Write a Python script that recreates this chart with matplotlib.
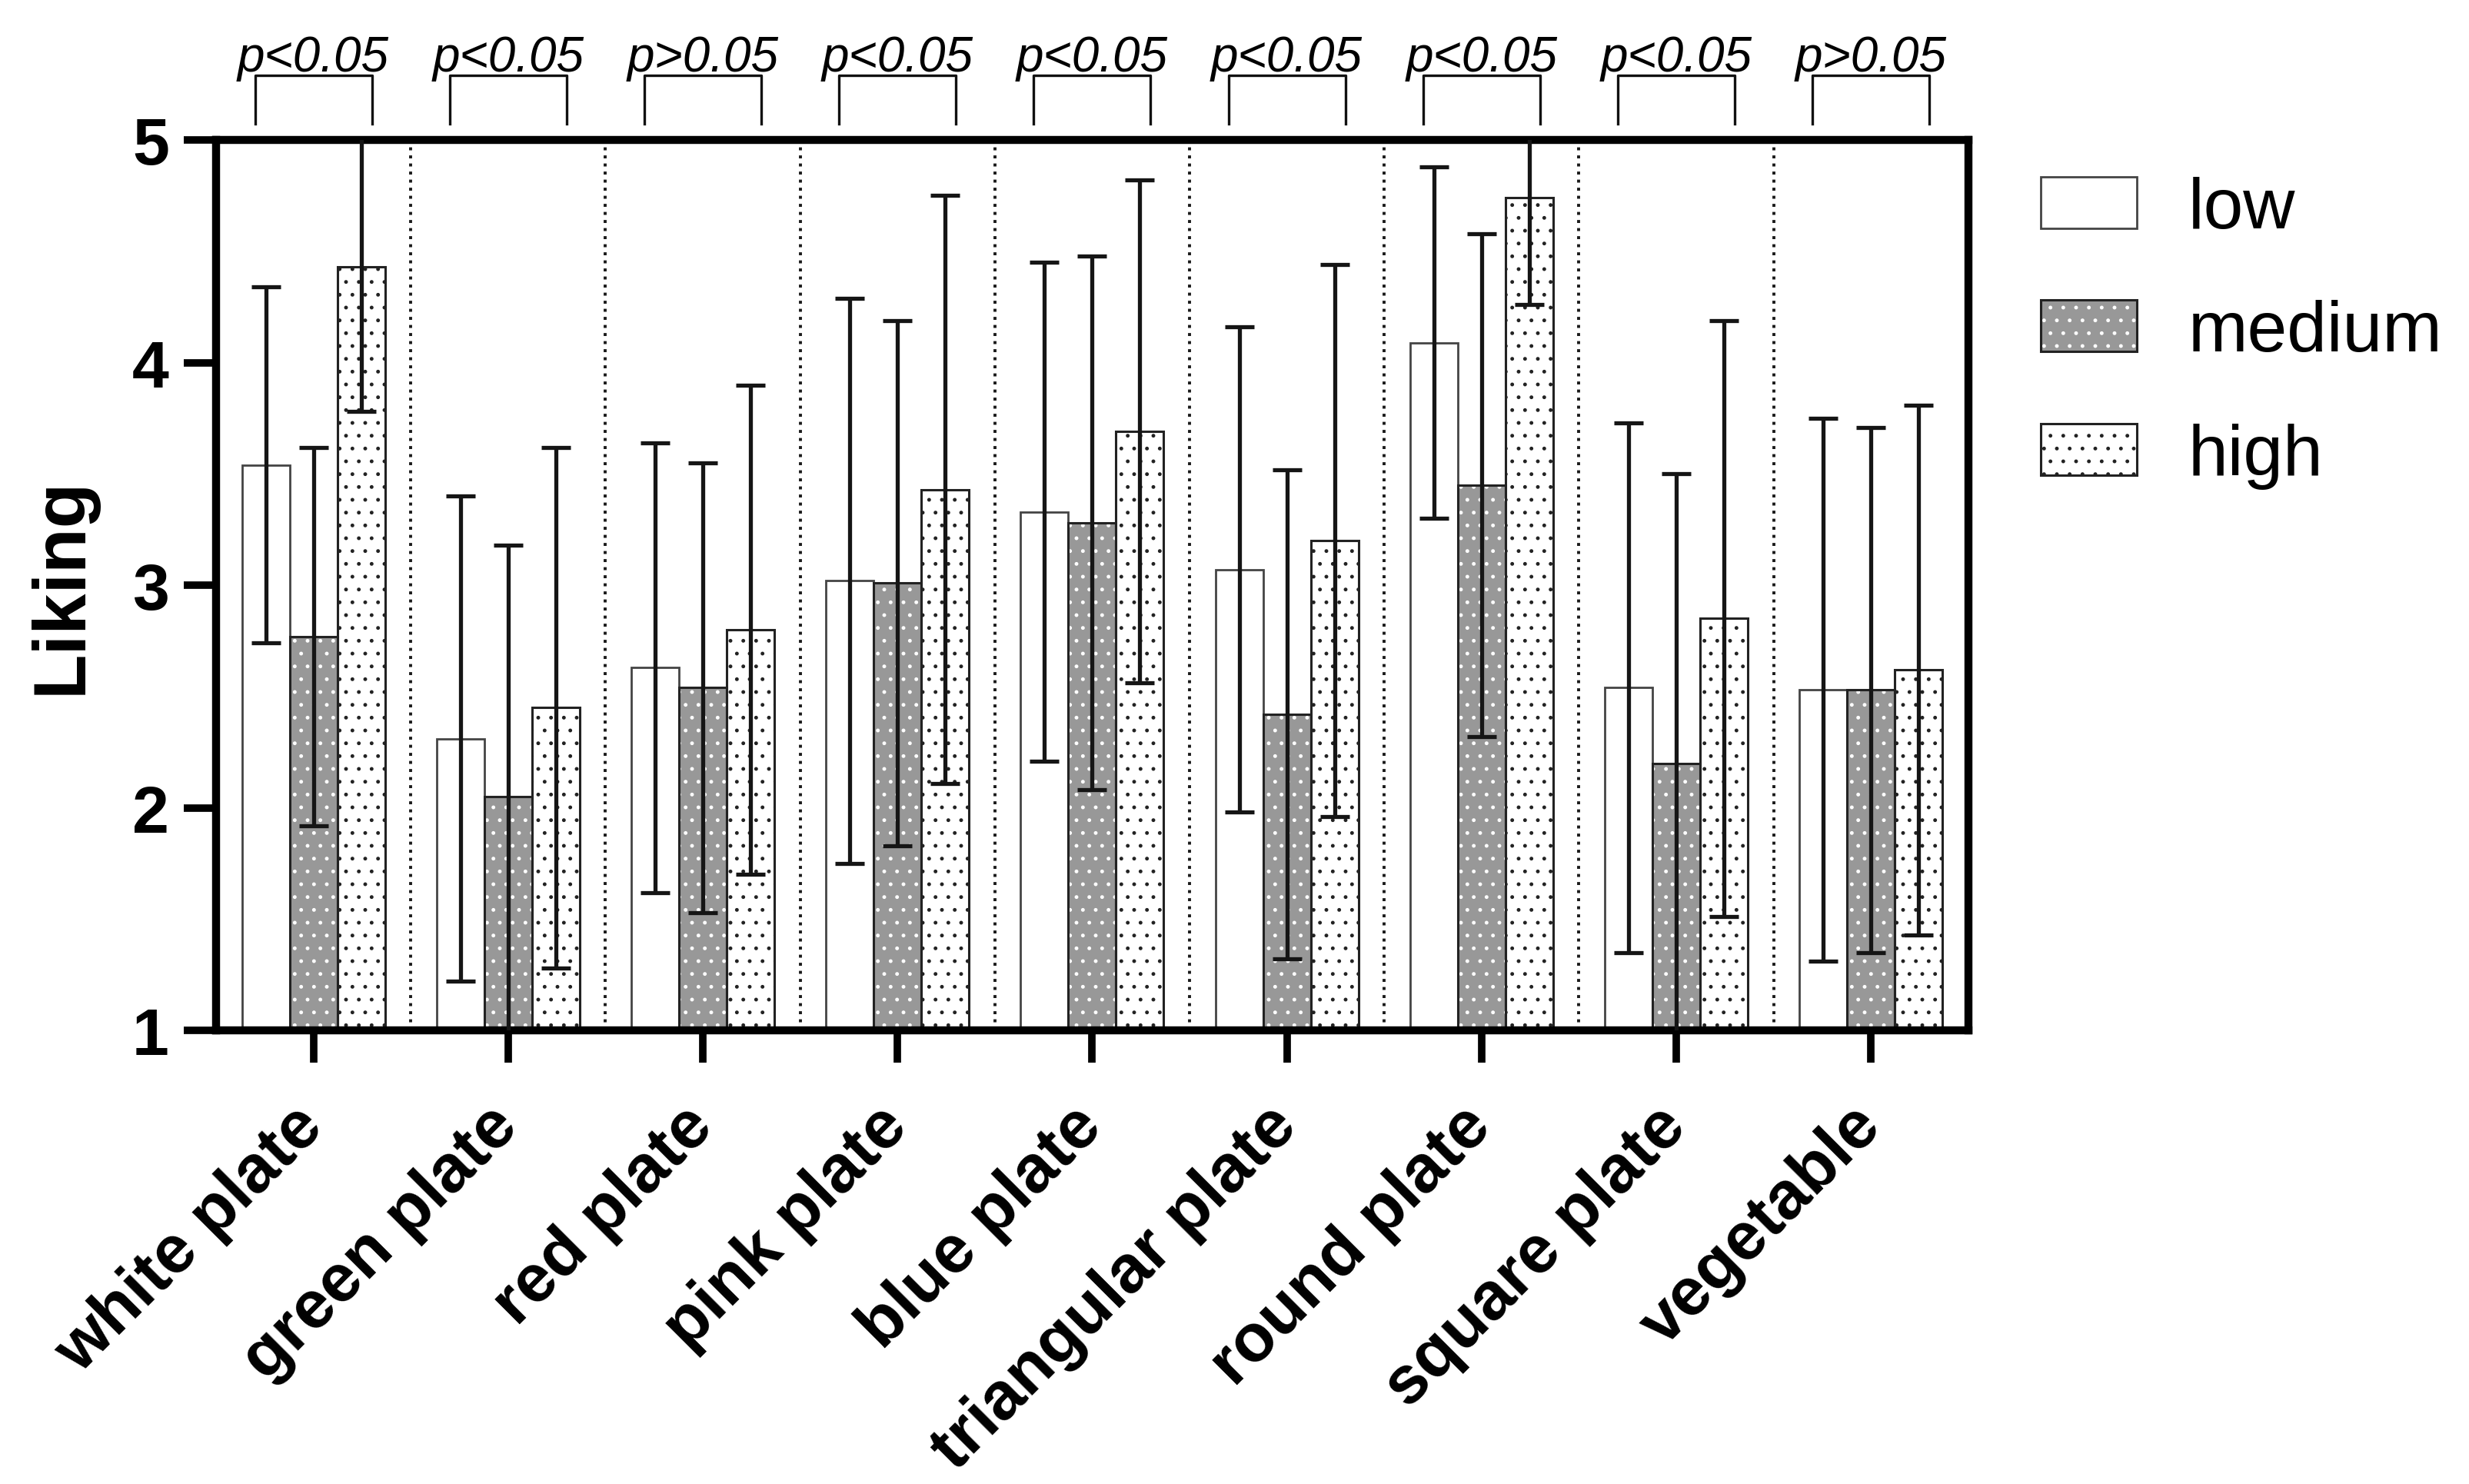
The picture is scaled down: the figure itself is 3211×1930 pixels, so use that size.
import matplotlib
matplotlib.use("Agg")
import matplotlib.pyplot as plt
from matplotlib.patches import Patch
import numpy as np

plt.rcParams["font.family"] = ["Liberation Sans", "DejaVu Sans"]
plt.rcParams["hatch.linewidth"] = 1.1

# data (mean and SD of liking)
CATEGORIES = ["white plate", "green plate", "red plate", "pink plate", "blue plate",
              "triangular plate", "round plate", "square plate", "vegetable"]
LEVELS = ["low", "medium", "high"]
LOW_MEAN = [3.54, 2.31, 2.63, 3.02, 3.33, 3.07, 4.09, 2.54, 2.53]
LOW_SD = [0.80, 1.09, 1.01, 1.27, 1.12, 1.09, 0.79, 1.19, 1.22]
MED_MEAN = [2.77, 2.05, 2.54, 3.01, 3.28, 2.42, 3.45, 2.20, 2.53]
MED_SD = [0.85, 1.13, 1.01, 1.18, 1.20, 1.10, 1.13, 1.30, 1.18]
HIGH_MEAN = [4.43, 2.45, 2.80, 3.43, 3.69, 3.20, 4.74, 2.85, 2.62]
HIGH_SD = [0.65, 1.17, 1.10, 1.32, 1.13, 1.24, 0.48, 1.34, 1.19]
P_LABELS = ["p<0.05", "p<0.05", "p>0.05", "p<0.05", "p<0.05",
            "p<0.05", "p<0.05", "p<0.05", "p>0.05"]
Y_TICKS = [1, 2, 3, 4, 5]

MED_GRAY = "#989898"
EDGE = "#222222"
LOW_EDGE = "#444444"
BAR_W = 0.245

fig = plt.figure(figsize=(32.11, 19.31), dpi=100)
ax = fig.add_axes([0.0875, 0.3055, 0.7097, 0.5997])

x = np.arange(len(CATEGORIES))

# low: plain white
ax.bar(x - BAR_W, LOW_MEAN, BAR_W, bottom=0, facecolor="white",
       edgecolor=LOW_EDGE, linewidth=2.0, zorder=2)
# medium: gray with white dots, drawn in two layers
ax.bar(x, MED_MEAN, BAR_W, facecolor=MED_GRAY, edgecolor="white",
       hatch=".", linewidth=0, zorder=2)
ax.bar(x, MED_MEAN, BAR_W, facecolor="none", edgecolor=EDGE,
       linewidth=2.2, zorder=2.1)
# high: white with black dots
ax.bar(x + BAR_W, HIGH_MEAN, BAR_W, facecolor="white", edgecolor=EDGE,
       hatch=".", linewidth=2.2, zorder=2)

for off, m, s in [(-BAR_W, LOW_MEAN, LOW_SD), (0, MED_MEAN, MED_SD),
                  (BAR_W, HIGH_MEAN, HIGH_SD)]:
    ax.errorbar(x + off, m, yerr=s, fmt="none", ecolor="#151515",
                elinewidth=3.8, capsize=14, capthick=3.8, zorder=3)

# dotted separators between groups
for b in np.arange(0.5, len(CATEGORIES) - 0.5, 1.0):
    ax.axvline(b, color="#1a1a1a", linewidth=2.8, linestyle=(0, (1, 1.7)),
               zorder=1)

ax.set_xlim(-0.5, len(CATEGORIES) - 0.5)
ax.set_ylim(1, 5)
ax.set_yticks(Y_TICKS)
ax.set_yticklabels([str(t) for t in Y_TICKS], fontsize=62, fontweight="bold")
ax.set_xticks(x)
ax.set_xticklabels(CATEGORIES, fontsize=63, fontweight="bold", rotation=45,
                   ha="right", va="center", rotation_mode="anchor")

for side in ["left", "right", "top", "bottom"]:
    ax.spines[side].set_linewidth(7.5)
    ax.spines[side].set_color("black")
ax.tick_params(axis="y", length=30, width=7, pad=14)
ax.tick_params(axis="x", length=30, width=7, pad=50)

ax.set_ylabel("Liking", fontsize=69, fontweight="bold")
ax.yaxis.set_label_coords(-0.068, 0.5)

# significance brackets above the plot
for i, lab in enumerate(P_LABELS):
    l, r = i - 0.3, i + 0.3
    ax.plot([l, l, r, r], [5.072, 5.29, 5.29, 5.072], color="#111111",
            linewidth=2.4, clip_on=False)
    ax.text(i, 5.31, lab, ha="center", va="baseline", fontsize=46,
            style="italic", clip_on=False)

h_low = Patch(facecolor="white", edgecolor=LOW_EDGE, linewidth=2.0)
h_med = (Patch(facecolor=MED_GRAY, edgecolor="white", hatch=".", linewidth=0),
         Patch(facecolor="none", edgecolor=EDGE, linewidth=2.2))
h_high = Patch(facecolor="white", edgecolor=EDGE, hatch=".", linewidth=2.2)
fig.legend([h_low, h_med, h_high], LEVELS, loc="upper left",
           bbox_to_anchor=(0.8265, 0.881), frameon=False, fontsize=67,
           handlelength=1.34, handleheight=0.73, handletextpad=0.72,
           labelspacing=0.80, borderpad=0, borderaxespad=0)

fig.savefig("out.png", dpi=100)
